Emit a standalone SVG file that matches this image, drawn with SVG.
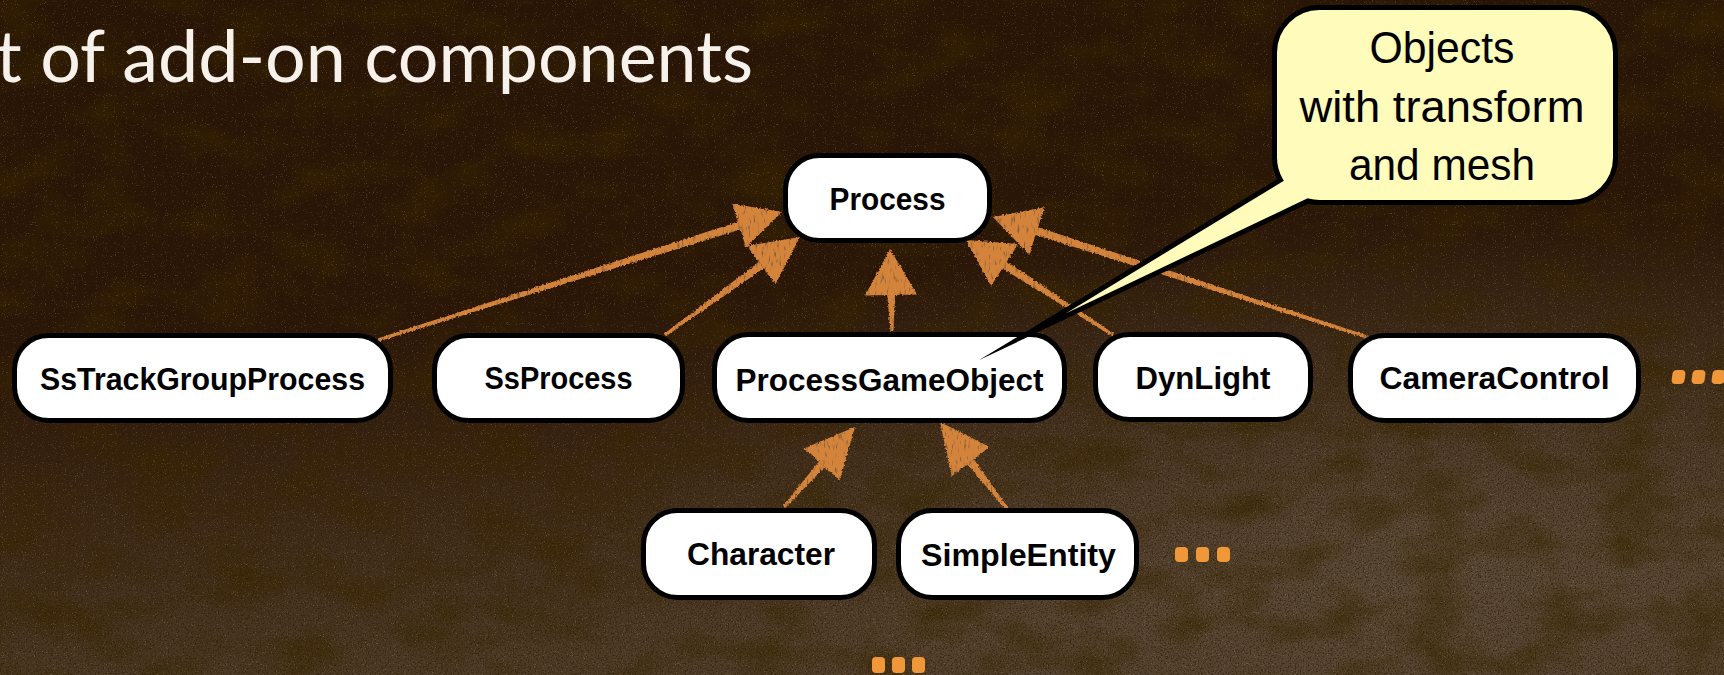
<svg xmlns="http://www.w3.org/2000/svg" width="1724" height="675" viewBox="0 0 1724 675">
  <defs>
    <style>
      .node rect { fill: #ffffff; stroke: #000000; stroke-width: 5; }
      .node text { font-family: "Liberation Sans", Arial, sans-serif; font-weight: bold; font-size: 31px; fill: #000000; text-anchor: middle; }
      .callout path { fill: #fffbbb; stroke: #000000; stroke-width: 5; stroke-linejoin: miter; stroke-miterlimit: 20; }
      .callout text { font-family: "Liberation Sans", Arial, sans-serif; font-size: 44px; fill: #000000; text-anchor: middle; }
      .title { font-family: Lato, "Open Sans", sans-serif; font-weight: 400; font-size: 72px; fill: #f6f1ea; }
      .arrow { fill: #d4833b; }
      .dots rect { fill: #f0973a; }
    </style>
    <linearGradient id="bg" x1="0" y1="0" x2="0.2" y2="1">
      <stop offset="0" stop-color="#271407"/>
      <stop offset="0.5" stop-color="#2a1609"/>
      <stop offset="0.72" stop-color="#3a2614"/>
      <stop offset="1" stop-color="#4c3a27"/>
    </linearGradient>
    <radialGradient id="glow" cx="0.82" cy="0.8" r="0.5">
      <stop offset="0" stop-color="#6b5d4c" stop-opacity="0.45"/>
      <stop offset="1" stop-color="#6b5d4c" stop-opacity="0"/>
    </radialGradient>
    <filter id="blotch" x="0" y="0" width="100%" height="100%">
      <feTurbulence type="fractalNoise" baseFrequency="0.015 0.025" numOctaves="3" seed="11" result="n"/>
      <feColorMatrix in="n" type="matrix" values="0 0 0 0 0.04  0 0 0 0 0.02  0 0 0 0 0.0  2.4 0 0 0 -1.0"/>
    </filter>
    <filter id="grain" x="0" y="0" width="100%" height="100%">
      <feTurbulence type="fractalNoise" baseFrequency="0.9" numOctaves="2" seed="4" result="n"/>
      <feColorMatrix in="n" type="matrix" values="0 0 0 0 0.62  0 0 0 0 0.55  0 0 0 0 0.28  6 0 0 0 -3.8"/>
    </filter>
    <filter id="darkgrain" x="0" y="0" width="100%" height="100%">
      <feTurbulence type="fractalNoise" baseFrequency="0.6" numOctaves="2" seed="9" result="n"/>
      <feColorMatrix in="n" type="matrix" values="0 0 0 0 0.03  0 0 0 0 0.01  0 0 0 0 0.0  5 0 0 0 -2.5"/>
    </filter>
    <filter id="sketch" x="-10%" y="-10%" width="120%" height="120%">
      <feTurbulence type="fractalNoise" baseFrequency="0.5" numOctaves="2" seed="7" result="t"/>
      <feDisplacementMap in="SourceGraphic" in2="t" scale="3.5" xChannelSelector="R" yChannelSelector="G" result="d"/>
      <feTurbulence type="fractalNoise" baseFrequency="0.45 0.12" numOctaves="2" seed="2" result="t2"/>
      <feColorMatrix in="t2" type="matrix" values="0 0 0 0 0.22  0 0 0 0 0.12  0 0 0 0 0.05  4.5 0 0 0 -2.6" result="spk"/>
      <feComposite in="spk" in2="d" operator="in" result="spk2"/>
      <feMerge><feMergeNode in="d"/><feMergeNode in="spk2"/></feMerge>
    </filter>
  </defs>

  <!-- background -->
  <rect x="0" y="0" width="1724" height="675" fill="url(#bg)"/>
  <rect x="0" y="0" width="1724" height="675" fill="url(#glow)"/>
  <rect x="0" y="0" width="1724" height="675" filter="url(#blotch)" opacity="0.6"/>
  <rect x="0" y="0" width="1724" height="675" filter="url(#darkgrain)" opacity="0.55"/>
  <rect x="0" y="0" width="1724" height="675" filter="url(#grain)" opacity="0.22"/>

  <text class="title" x="-4" y="82" textLength="757" lengthAdjust="spacingAndGlyphs">t of add-on components</text>

  <!-- connectors -->
  <g id="connectors" class="arrow" filter="url(#sketch)">
    <!-- SsTrackGroupProcess -> Process -->
    <polygon points="377.5,338.6 737.9,221.8 740.3,229.4 378.5,341.4"/>
    <polygon points="782,212 732.2,203.7 746,247.5"/>
    <!-- SsProcess -> Process -->
    <polygon points="664.1,333.8 758.9,262 763.5,268.4 665.9,336.2"/>
    <polygon points="800,237 747.1,245.8 775.3,284.6"/>
    <!-- ProcessGameObject -> Process -->
    <polygon points="890.5,331 887.1,294 895.1,294 893.5,331"/>
    <polygon points="890,249 865.1,295.6 917.1,294.4"/>
    <!-- DynLight -> Process -->
    <polygon points="1113.8,333.7 1006.8,261.6 1002.4,268.4 1112.2,336.3"/>
    <polygon points="966,240 1018.2,244 991,286"/>
    <!-- CameraControl -> Process -->
    <polygon points="1370.5,336.6 1038,227.3 1035.6,234.9 1369.5,339.4"/>
    <polygon points="993,217 1044.5,207.3 1029.2,254.9"/>
    <!-- Character -> ProcessGameObject -->
    <polygon points="785.1,508 824.8,467.1 818.8,461.7 782.9,506"/>
    <polygon points="855,427 839.8,480.3 803.8,448.5"/>
    <!-- SimpleEntity -> ProcessGameObject -->
    <polygon points="1009.2,509.1 973.8,459.2 967.4,464 1006.8,510.9"/>
    <polygon points="940,422 989.6,446.9 951.6,476.3"/>
  </g>

  <!-- nodes -->
  <g id="node-process" class="node">
    <rect x="785.5" y="155.5" width="204" height="85" rx="34"/>
    <text x="887.5" y="210" textLength="116" lengthAdjust="spacingAndGlyphs">Process</text>
  </g>
  <g id="node-sstrackgroupprocess" class="node">
    <rect x="14.5" y="335.5" width="376" height="85" rx="34"/>
    <text x="202.5" y="390" textLength="325" lengthAdjust="spacingAndGlyphs">SsTrackGroupProcess</text>
  </g>
  <g id="node-ssprocess" class="node">
    <rect x="434.5" y="335.5" width="248" height="85" rx="34"/>
    <text x="558.5" y="389" textLength="148" lengthAdjust="spacingAndGlyphs">SsProcess</text>
  </g>
  <g id="node-processgameobject" class="node">
    <rect x="714.5" y="334.5" width="350" height="86" rx="34"/>
    <text x="889.5" y="391" textLength="308" lengthAdjust="spacingAndGlyphs">ProcessGameObject</text>
  </g>
  <g id="node-dynlight" class="node">
    <rect x="1095.5" y="334.5" width="215" height="85" rx="34"/>
    <text x="1203" y="389" textLength="135" lengthAdjust="spacingAndGlyphs">DynLight</text>
  </g>
  <g id="node-cameracontrol" class="node">
    <rect x="1350.5" y="335.5" width="288" height="85" rx="34"/>
    <text x="1494.5" y="389" textLength="230" lengthAdjust="spacingAndGlyphs">CameraControl</text>
  </g>
  <g id="node-character" class="node">
    <rect x="643.5" y="510.5" width="231" height="87" rx="34"/>
    <text x="761" y="565" textLength="148" lengthAdjust="spacingAndGlyphs">Character</text>
  </g>
  <g id="node-simpleentity" class="node">
    <rect x="898.5" y="510.5" width="238" height="87" rx="34"/>
    <text x="1018.5" y="566" textLength="195" lengthAdjust="spacingAndGlyphs">SimpleEntity</text>
  </g>

  <!-- ellipsis dots -->
  <g id="dots-row" class="dots">
    <rect x="1673" y="370" width="13" height="14" rx="4" transform="skewX(-8) translate(52,0)"/>
    <rect x="1693" y="370" width="13" height="14" rx="4" transform="skewX(-8) translate(52,0)"/>
    <rect x="1713" y="370" width="13" height="14" rx="4" transform="skewX(-8) translate(52,0)"/>
  </g>
  <g id="dots-simpleentity" class="dots">
    <rect x="1175" y="547" width="13" height="15" rx="4"/>
    <rect x="1196" y="547" width="13" height="15" rx="4"/>
    <rect x="1217" y="547" width="13" height="15" rx="4"/>
  </g>
  <g id="dots-bottom" class="dots">
    <rect x="872" y="657" width="13" height="16" rx="4"/>
    <rect x="892" y="657" width="13" height="16" rx="4"/>
    <rect x="912" y="657" width="13" height="16" rx="4"/>
  </g>

  <!-- callout -->
  <g id="callout" class="callout">
    <path d="M 1319.5,7.5 H 1570.5 A 45 45 0 0 1 1615.5,52.5 V 157.5 A 45 45 0 0 1 1570.5,202.5 H 1319.5 A 45 45 0 0 1 1307.9,201 L 1022,337 L 1280.5,180 A 45 45 0 0 1 1274.5,157.5 V 52.5 A 45 45 0 0 1 1319.5,7.5 Z"/>
    <text x="1442" y="63" textLength="145" lengthAdjust="spacingAndGlyphs">Objects</text>
    <text x="1442" y="122" textLength="285" lengthAdjust="spacingAndGlyphs">with transform</text>
    <text x="1442" y="180" textLength="186" lengthAdjust="spacingAndGlyphs">and mesh</text>
  </g>
</svg>
